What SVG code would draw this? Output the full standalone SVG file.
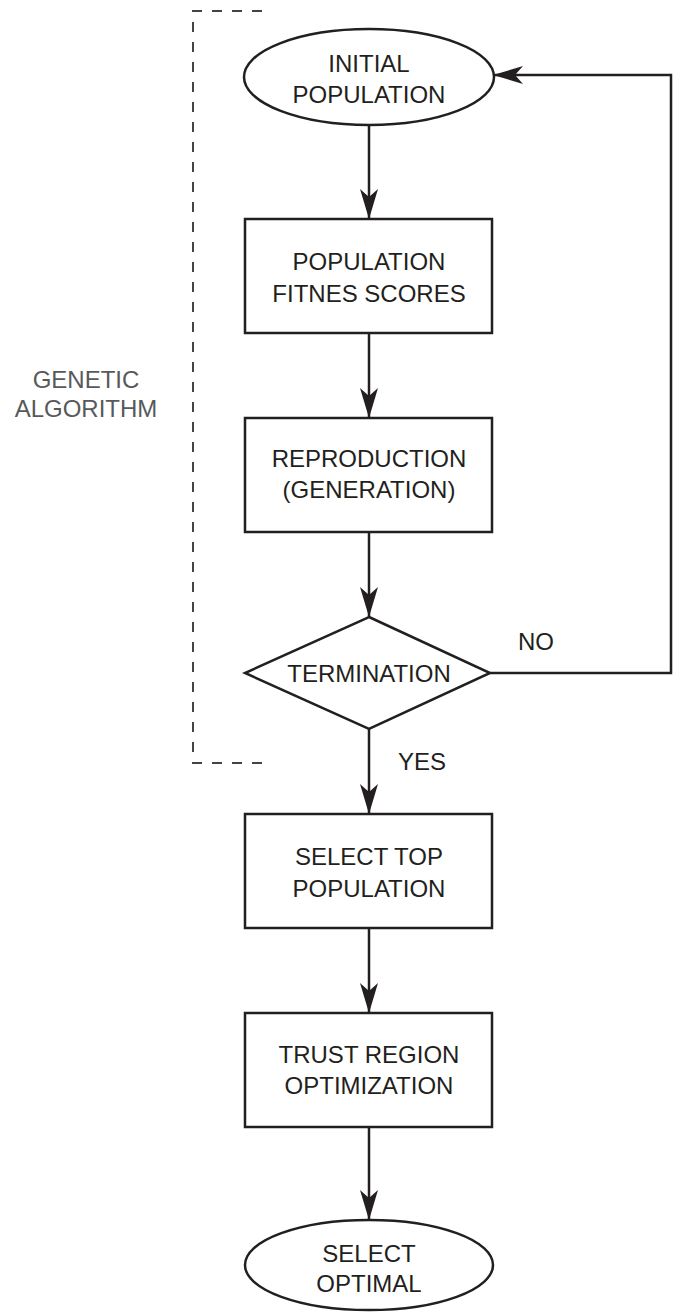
<svg xmlns="http://www.w3.org/2000/svg" width="678" height="1312" viewBox="0 0 678 1312">
<style>
.s{fill:#fff;stroke:#231f20;stroke-width:2.5}
.t{font-family:"Liberation Sans",Arial,sans-serif;font-size:24px;fill:#231f20;text-anchor:middle}
.c{fill:none;stroke:#231f20;stroke-width:2.5}
.d{fill:none;stroke:#444;stroke-width:2;stroke-dasharray:10 10}
.g{font-family:"Liberation Sans",Arial,sans-serif;font-size:24px;fill:#58595b;text-anchor:middle}
</style>
<defs>
<marker id="ah" viewBox="0 0 30 18" refX="30" refY="9" markerWidth="30" markerHeight="18" markerUnits="userSpaceOnUse" orient="auto">
<path d="M0,0 L30,9 L0,18 L8,9 Z" fill="#231f20"/>
</marker>
</defs>
<g id="bracket">
<path class="d" d="M262,11 H193 V763 H262"/>
<text class="g" x="86" y="388">GENETIC</text>
<text class="g" x="86" y="417">ALGORITHM</text>
</g>
<g id="connectors">
<line class="c" x1="369" y1="125" x2="369" y2="219" marker-end="url(#ah)"/>
<line class="c" x1="369" y1="333" x2="369" y2="418" marker-end="url(#ah)"/>
<line class="c" x1="369" y1="532" x2="369" y2="617" marker-end="url(#ah)"/>
<line class="c" x1="369" y1="729" x2="369" y2="814" marker-end="url(#ah)"/>
<line class="c" x1="369" y1="928" x2="369" y2="1013" marker-end="url(#ah)"/>
<line class="c" x1="369" y1="1127" x2="369" y2="1220" marker-end="url(#ah)"/>
<path class="c" d="M490,673 H671 V75 H493" marker-end="url(#ah)"/>
<text class="t" x="536" y="650">NO</text>
<text class="t" x="422" y="770">YES</text>
</g>
<g id="initial">
<ellipse class="s" cx="369" cy="77" rx="125" ry="48"/>
<text class="t" x="369" y="72">INITIAL</text>
<text class="t" x="369" y="103">POPULATION</text>
</g>
<g id="fitness">
<rect class="s" x="245" y="219" width="247" height="114"/>
<text class="t" x="369" y="270">POPULATION</text>
<text class="t" x="369" y="302">FITNES SCORES</text>
</g>
<g id="reproduction">
<rect class="s" x="245" y="418" width="247" height="114"/>
<text class="t" x="369" y="467">REPRODUCTION</text>
<text class="t" x="369" y="498">(GENERATION)</text>
</g>
<g id="termination">
<path class="s" d="M369,617 L490,673 L369,729 L245,673 Z"/>
<text class="t" x="369" y="682">TERMINATION</text>
</g>
<g id="selecttop">
<rect class="s" x="245" y="814" width="247" height="114"/>
<text class="t" x="369" y="865">SELECT TOP</text>
<text class="t" x="369" y="897">POPULATION</text>
</g>
<g id="trust">
<rect class="s" x="245" y="1013" width="247" height="114"/>
<text class="t" x="369" y="1063">TRUST REGION</text>
<text class="t" x="369" y="1094">OPTIMIZATION</text>
</g>
<g id="optimal">
<ellipse class="s" cx="369" cy="1265" rx="124" ry="45"/>
<text class="t" x="369" y="1262">SELECT</text>
<text class="t" x="369" y="1292">OPTIMAL</text>
</g>
</svg>
